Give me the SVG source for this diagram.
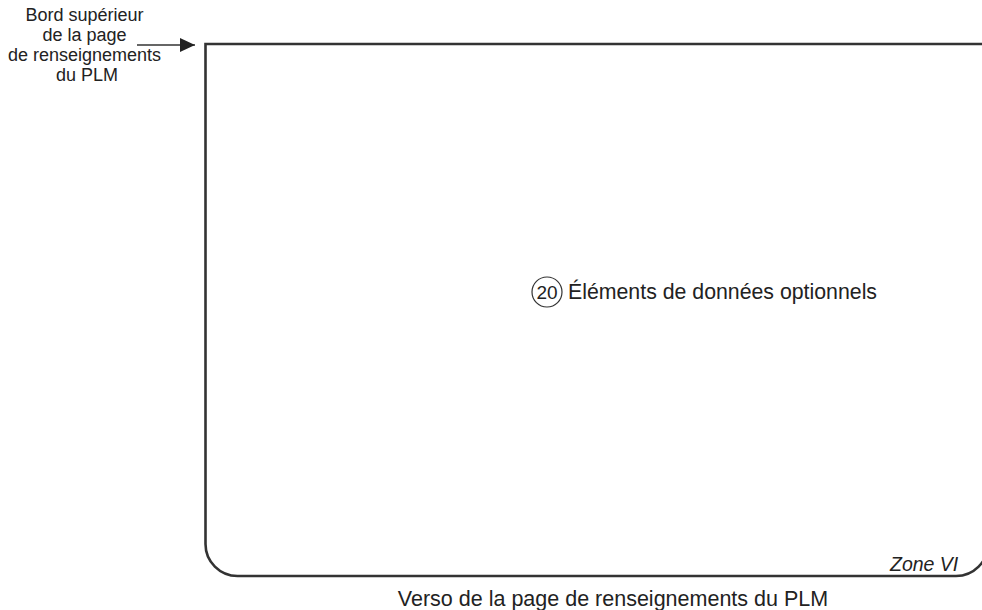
<svg xmlns="http://www.w3.org/2000/svg" width="982" height="610" viewBox="0 0 982 610">
<style>
.t{font-family:"Liberation Sans",Arial,sans-serif;fill:#222}
.ln{fill:none;stroke:#333;stroke-width:2.6}
</style>
<defs>
<marker id="ah" markerWidth="15" markerHeight="14" refX="15" refY="7" orient="auto" markerUnits="userSpaceOnUse">
<path d="M0,0 L15,7 L0,14 Z" fill="#222"/>
</marker>
</defs>
<rect width="982" height="610" fill="#fff"/>
<g id="page">
<path class="ln" d="M988,44 H205.5 V544 A32,32 0 0 0 237.5,576 H956 A32,32 0 0 0 988,544"/>
<text class="t" x="890" y="571" font-size="19.5" font-style="italic">Zone VI</text>
</g>
<g id="item20">
<circle cx="547" cy="292" r="15" fill="none" stroke="#333" stroke-width="1.2"/>
<text class="t" x="547" y="299" font-size="19" text-anchor="middle">20</text>
<text class="t" x="568" y="299" font-size="21.3">Éléments de données optionnels</text>
</g>
<g id="label-top">
<text class="t" font-size="18" text-anchor="middle">
<tspan x="87" y="21">Bord supérieur</tspan>
<tspan x="87" y="40.5">de la page</tspan>
<tspan x="87" y="60.5">de renseignements</tspan>
<tspan x="87" y="80.5">du PLM</tspan>
</text>
</g>
<g id="connectors">
<line x1="137" y1="45" x2="195" y2="45" stroke="#333" stroke-width="1.3" marker-end="url(#ah)"/>
</g>
<text class="t" x="613" y="606" font-size="21.5" text-anchor="middle">Verso de la page de renseignements du PLM</text>
</svg>
